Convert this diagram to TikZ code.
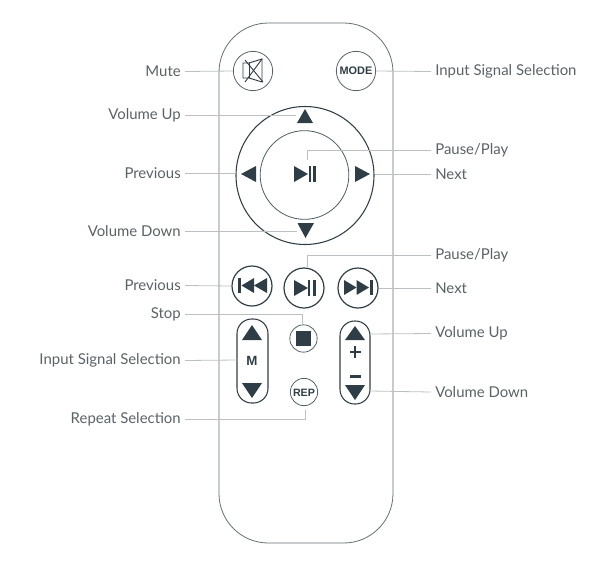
\documentclass[tikz,border=0pt]{standalone}
\usepackage{fontspec}
\setmainfont{Lato}
\newfontfamily\keyfont{Liberation Sans}
\definecolor{ink}{HTML}{2F3E46}
\definecolor{leadgray}{HTML}{BCC0C2}
\definecolor{textgray}{HTML}{5A6266}
\tikzset{
	lead/.style={leadgray,line width=0.6pt},
	lbl/.style={text=textgray,font=\fontsize{11.2}{13}\selectfont,inner sep=3pt},
	btn/.style={circle,draw=ink,line width=0.9pt,inner sep=0pt,minimum size=30pt},
	smallbtn/.style={circle,draw=ink!80,line width=0.6pt,inner sep=0pt,minimum size=20.5pt},
	pill/.style={rounded corners=11pt,draw=ink,line width=0.8pt,fill=none},
	glyph/.style={fill=ink,draw=none},
	key/.style={text=ink,inner sep=0pt,font=\keyfont\bfseries}
}
\begin{document}
\begin{tikzpicture}[x=0.75pt,y=-0.75pt]
	\useasboundingbox (0,0) rectangle (611,565);
	% body
	\draw[draw=ink!75,line width=0.6pt,rounded corners=37pt] (219,23) rectangle (393,543);
	% buttons
	\node[smallbtn,minimum size=29.5pt] (muteBtn) at (253,71) {};
	\node[smallbtn,minimum size=29.5pt] (modeBtn) at (356,71) {};
	\node[key,font=\keyfont\bfseries\fontsize{8.2}{10}\selectfont] at (356,71) {MODE};
	\node[circle,draw=ink,line width=0.8pt,inner sep=0pt,minimum size=103.5pt] (ringBtn) at (305,175.5) {};
	\node[circle,draw=ink!85,line width=0.6pt,inner sep=0pt,minimum size=66.5pt] (okBtn) at (304.5,175) {};
	\node[btn] (prevBtn) at (252,286) {};
	\node[btn] (playBtn) at (304,288) {};
	\node[btn] (nextBtn) at (358,288) {};
	\node[smallbtn] (stopBtn) at (303.5,338.5) {};
	\node[smallbtn] (repBtn) at (304,392) {};
	\node[key,font=\keyfont\bfseries\fontsize{8}{10}\selectfont] at (304,392.5) {REP};
	% pills
	\draw[pill] (237,319) rectangle (268,403);
	\draw[pill] (340,321) rectangle (370,404);
	\coordinate (inputEnd) at (237,360);
	\coordinate (upEnd) at (370,334);
	\coordinate (downEnd) at (370,391);
	\node[key,font=\keyfont\bfseries\fontsize{10}{11}\selectfont] at (252,361) {M};
	\fill[glyph] (354.1,346) rectangle (356.1,358);
	\fill[glyph] (349.5,351) rectangle (360.7,353);
	\fill[glyph] (349.5,375) rectangle (360.7,377.5);
	% arrows
	\fill[glyph] (305,109) -- (313,123) -- (297,123) -- cycle;
	\fill[glyph] (305.5,238) -- (297.5,223) -- (314,223) -- cycle;
	\fill[glyph] (241,174) -- (256,166) -- (256,182) -- cycle;
	\fill[glyph] (370,174) -- (355,166) -- (355,182) -- cycle;
	\fill[glyph] (294,166) -- (308,174) -- (294,182) -- cycle;
	\fill[glyph] (308.7,166) rectangle (311,182);
	\fill[glyph] (313.2,166) rectangle (315.5,182);
	% transport
	\fill[glyph] (238,278) rectangle (241,293);
	\fill[glyph] (241.5,285.5) -- (254,278) -- (254,293) -- cycle;
	\fill[glyph] (254,285.5) -- (267,278) -- (267,293) -- cycle;
	\fill[glyph] (294,280) -- (308,288) -- (294,296) -- cycle;
	\fill[glyph] (307.7,280) rectangle (310,296);
	\fill[glyph] (313.2,280) rectangle (315.5,296);
	\fill[glyph] (344,280) -- (356.5,287.5) -- (344,295) -- cycle;
	\fill[glyph] (356.5,280) -- (369,287.5) -- (356.5,295) -- cycle;
	\fill[glyph] (370,280) rectangle (373,295);
	\fill[glyph] (296,331) rectangle (311,346);
	% pill arrows
	\fill[glyph] (252,325) -- (262,340) -- (242,340) -- cycle;
	\fill[glyph] (252,398) -- (242,383) -- (262,383) -- cycle;
	\fill[glyph] (355,326) -- (365,340) -- (345,340) -- cycle;
	\fill[glyph] (355,400) -- (345,385) -- (365,385) -- cycle;
	% mute icon
	\draw[ink,line width=0.7pt] (243,63) -- (249,63) -- (262,59) -- (262,82) -- (249,78) -- (243,78) -- cycle;
	\draw[ink,line width=0.7pt] (249,63) -- (249,78);
	\draw[ink,line width=0.7pt] (245,60) -- (263,82);
	\draw[ink,line width=0.7pt] (245,82) -- (262,59);
	% left labels
	\node[lbl,anchor=east] (muteLbl) at (185,71.5) {Mute};
	\node[lbl,anchor=east] (volUpLbl) at (185,115.5) {Volume Up};
	\node[lbl,anchor=east] (prevLbl) at (185,173.5) {Previous};
	\node[lbl,anchor=east] (volDownLbl) at (185,231.5) {Volume Down};
	\node[lbl,anchor=east] (prevTwoLbl) at (185,285.5) {Previous};
	\node[lbl,anchor=east] (stopLbl) at (185,314) {Stop};
	\node[lbl,anchor=east] (inputLbl) at (185,360.5) {Input Signal Selection};
	\node[lbl,anchor=east] (repLbl) at (185,419) {Repeat Selection};
	% right labels
	\node[lbl,anchor=west] (modeLbl) at (431,71.5) {Input Signal Selection};
	\node[lbl,anchor=west] (pauseLbl) at (431,150.5) {Pause/Play};
	\node[lbl,anchor=west] (nextLbl) at (431,174.5) {Next};
	\node[lbl,anchor=west] (pauseTwoLbl) at (431,255.5) {Pause/Play};
	\node[lbl,anchor=west] (nextTwoLbl) at (431,288) {Next};
	\node[lbl,anchor=west] (upLbl) at (431,333.5) {Volume Up};
	\node[lbl,anchor=west] (downLbl) at (431,392) {Volume Down};
	% free ends
	\coordinate (volUpEnd) at (296,115.5);
	\coordinate (volDownEnd) at (297,231.5);
	\coordinate (pauseEnd) at (307,160);
	\coordinate (stopEnd) at (302,324);
	\coordinate (repEnd) at (305,410);
	% leaders
	\draw[lead] (muteLbl.east) -- (muteBtn.west);
	\draw[lead] (modeLbl.west) -- (modeBtn.east);
	\draw[lead] (volUpLbl.east) -- (volUpEnd);
	\draw[lead] (prevLbl.east) -- (ringBtn.west |- prevLbl.east);
	\draw[lead] (volDownLbl.east) -- (volDownEnd);
	\draw[lead] (pauseLbl.west) -| (pauseEnd);
	\draw[lead] (nextLbl.west) -- (ringBtn.east |- nextLbl.west);
	\draw[lead] (pauseTwoLbl.west) -| (playBtn.north -| pauseEnd);
	\draw[lead] (prevTwoLbl.east) -- (prevBtn.west);
	\draw[lead] (nextTwoLbl.west) -- (nextBtn.east);
	\draw[lead] (stopLbl.east) -| (stopEnd);
	\draw[lead] (inputLbl.east) -- (inputEnd);
	\draw[lead] (upLbl.west) -- (upEnd);
	\draw[lead] (downLbl.west) -- (downEnd);
	\draw[lead] (repLbl.east) -| (repEnd);
\end{tikzpicture}
\end{document}
